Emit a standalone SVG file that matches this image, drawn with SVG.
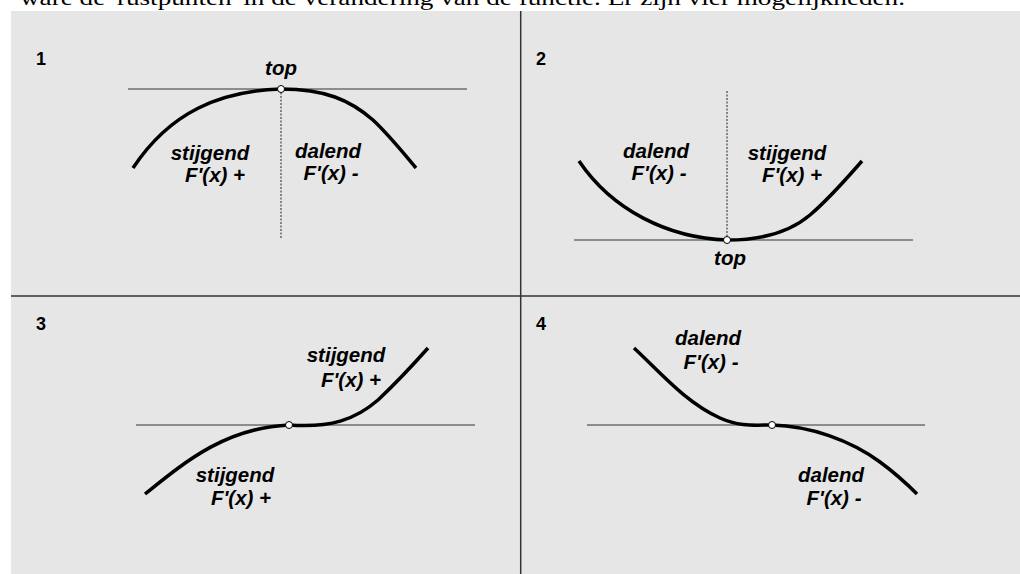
<svg xmlns="http://www.w3.org/2000/svg" width="1020" height="574" viewBox="0 0 1020 574">
<style>
.bg{fill:#e6e6e6}
.div{stroke:#333;stroke-width:1.5;fill:none}
.tan{stroke:#6e6e6e;stroke-width:1.3;fill:none}
.dot{stroke:#222;stroke-width:1;stroke-dasharray:2,1.5;fill:none}
.curve{stroke:#000;stroke-width:3.5;fill:none}
.pt{fill:#fff;stroke:#000;stroke-width:1}
.num{font-family:"Liberation Sans",Arial,sans-serif;font-weight:bold;font-size:18px;fill:#000}
.lbl{font-family:"Liberation Sans",Arial,sans-serif;font-weight:bold;font-style:italic;font-size:20.5px;fill:#000;text-anchor:middle}
.hdr{font-family:"Liberation Serif","Times New Roman",serif;font-size:21px;fill:#000}
</style>
<rect width="1020" height="574" fill="#fff"/>
<text class="hdr" x="20" y="5" textLength="885" lengthAdjust="spacingAndGlyphs">ware de 'rustpunten' in de verandering van de functie. Er zijn vier mogelijkheden.</text>
<rect class="bg" x="11" y="11" width="1009" height="563"/>
<g id="grid">
<line class="div" x1="11" y1="296" x2="1020" y2="296"/>
<line class="div" x1="520.7" y1="11" x2="520.7" y2="574"/>
</g>
<g id="panel1">
<text class="num" x="36" y="65">1</text>
<line class="tan" x1="128" y1="89" x2="467" y2="89"/>
<line class="dot" x1="281" y1="89" x2="281" y2="238"/>
<path class="curve" d="M133,168 C170,112 220,91 281,89 C325,89 350,100 373,120 C390,136 405,155 416,168"/>
<circle class="pt" cx="281" cy="89" r="3.5"/>
<text class="lbl" x="281" y="75">top</text>
<text class="lbl" x="210" y="160">stijgend</text>
<text class="lbl" x="215" y="182">F'(x) +</text>
<text class="lbl" x="328" y="158">dalend</text>
<text class="lbl" x="331" y="180">F'(x) -</text>
</g>
<g id="panel2">
<text class="num" x="536" y="65">2</text>
<line class="tan" x1="574" y1="240" x2="913" y2="240"/>
<line class="dot" x1="727" y1="91" x2="727" y2="240"/>
<path class="curve" d="M579,161 C612,210 668,238 727,240 C762,240 790,232 810,215 C830,198 847,178 862,161"/>
<circle class="pt" cx="727" cy="240" r="3.5"/>
<text class="lbl" x="730" y="265">top</text>
<text class="lbl" x="656" y="158">dalend</text>
<text class="lbl" x="659" y="180">F'(x) -</text>
<text class="lbl" x="787" y="160">stijgend</text>
<text class="lbl" x="792" y="182">F'(x) +</text>
</g>
<g id="panel3">
<text class="num" x="36" y="330">3</text>
<line class="tan" x1="136" y1="425" x2="475" y2="425"/>
<path class="curve" d="M145,494 C185,462 225,428 289,425 C330,428 355,420 378,400 C395,384 412,366 428,348"/>
<circle class="pt" cx="289" cy="425" r="3.5"/>
<text class="lbl" x="346" y="362">stijgend</text>
<text class="lbl" x="351" y="387">F'(x) +</text>
<text class="lbl" x="235" y="482">stijgend</text>
<text class="lbl" x="241" y="505">F'(x) +</text>
</g>
<g id="panel4">
<text class="num" x="536" y="330">4</text>
<line class="tan" x1="587" y1="425" x2="925" y2="425"/>
<path class="curve" d="M634,348 C660,372 685,402 720,418 C740,427 755,425 772,425 C810,426 850,440 880,462 C895,473 908,485 917,494"/>
<circle class="pt" cx="772" cy="425" r="3.5"/>
<text class="lbl" x="708" y="345">dalend</text>
<text class="lbl" x="711" y="369">F'(x) -</text>
<text class="lbl" x="831" y="482">dalend</text>
<text class="lbl" x="834" y="505">F'(x) -</text>
</g>
</svg>
